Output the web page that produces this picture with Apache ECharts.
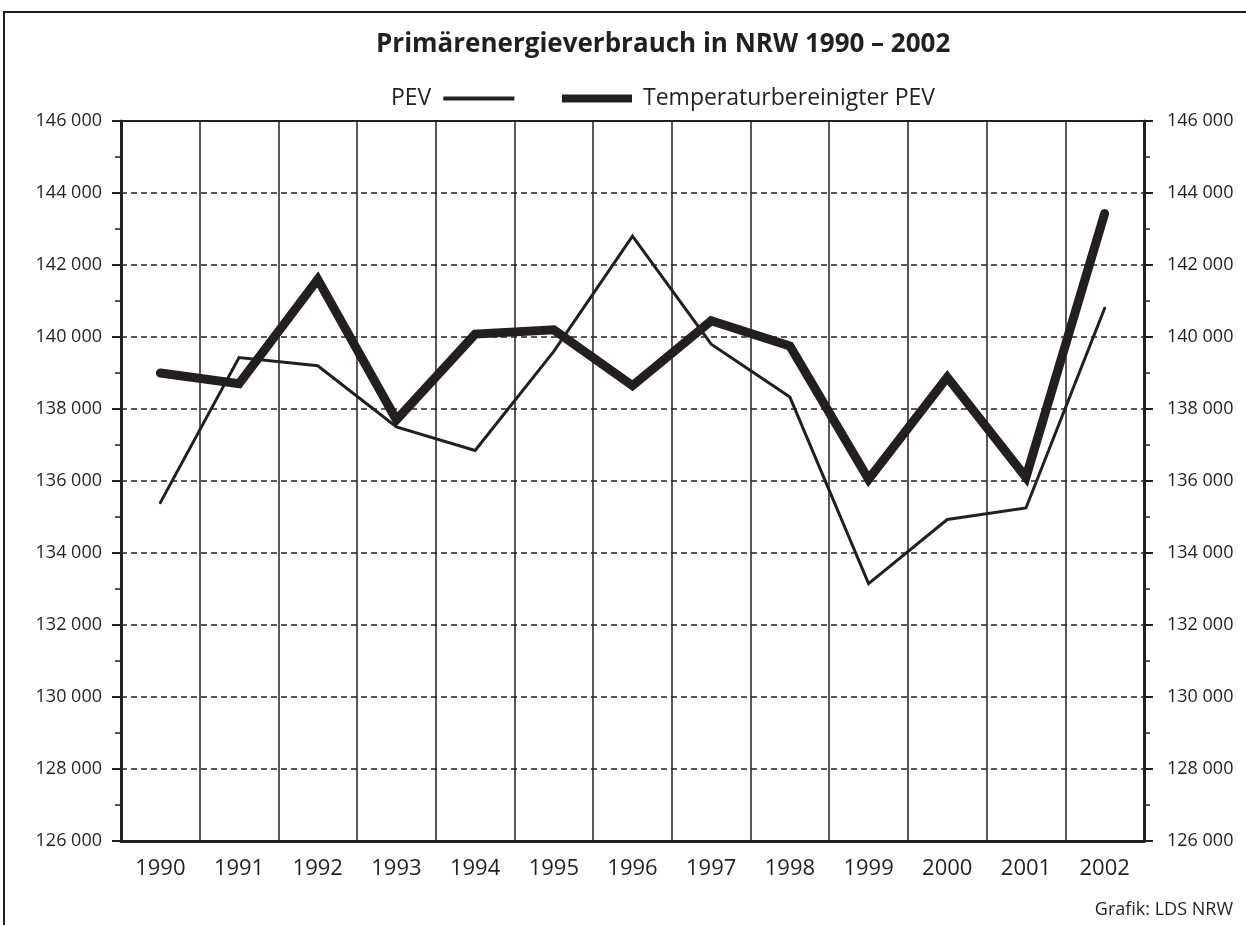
<!DOCTYPE html>
<html>
<head>
<meta charset="utf-8">
<script src="https://cdn.jsdelivr.net/npm/echarts@6/dist/echarts.min.js"></script>
<style>
  html, body { margin: 0; padding: 0; background: #fff; }
  #frame { position: absolute; left: 3px; top: 11px; width: 1243px; height: 914px;
           border-left: 2.5px solid #231f20; border-top: 2.5px solid #231f20; box-sizing: border-box; }
  #chart { position: absolute; left: 0; top: 0; width: 1246px; height: 925px; }
</style>
</head>
<body>
<div id="frame"></div>
<div id="chart"></div>
<script>
// Jahre und Werte (Primärenergieverbrauch)
var years = ['1990', '1991', '1992', '1993', '1994', '1995', '1996', '1997', '1998', '1999', '2000', '2001', '2002']
var pev = [135400, 139430, 139200, 137500, 136850, 139600, 142800, 139800, 138330, 133150, 134930, 135250, 140800]
var pevTemp = [139000, 138700, 141600, 137700, 140080, 140200, 138650, 140450, 139750, 136050, 138880, 136100, 143430]
var yMin = 126000
var yMax = 146000
var yStep = 2000

var ink = '#231f20'
var font = '"Open Sans", "DejaVu Sans", sans-serif'

function fmt (v) {
  return String(v).replace(/\B(?=(\d{3})+(?!\d))/g, ' ')
}

function valueAxis (pos, margin) {
  return {
    type: 'value',
    position: pos,
    min: yMin,
    max: yMax,
    interval: yStep,
    axisLine: { show: true, lineStyle: { color: ink, width: 3 } },
    axisTick: { show: true, inside: false, length: 9, lineStyle: { color: ink, width: 2 } },
    minorTick: { show: true, splitNumber: 2, length: 6, lineStyle: { color: ink, width: 1.5 } },
    axisLabel: { formatter: fmt, color: ink, fontFamily: font, fontSize: 18, margin: margin },
    splitLine: pos === 'left'
      ? { show: true, lineStyle: { color: ink, width: 1.5, type: [6, 4] } }
      : { show: false }
  }
}

var chart = echarts.init(document.getElementById('chart'), null, { renderer: 'canvas' })
chart.setOption({
  animation: false,
  backgroundColor: 'transparent',
  title: {
    text: 'Primärenergieverbrauch in NRW 1990 – 2002',
    left: 371,
    top: 27,
    textStyle: { color: ink, fontFamily: font, fontSize: 26, fontWeight: 'bold' }
  },
  legend: [{
    data: ['PEV'],
    left: 386,
    top: 82,
    align: 'right',
    icon: 'rect',
    itemWidth: 71,
    itemHeight: 4,
    itemStyle: { color: ink },
    textStyle: { color: ink, fontFamily: font, fontSize: 23, padding: [0, 7, 0, 0] }
  }, {
    data: ['Temperaturbereinigter PEV'],
    left: 557,
    top: 82,
    align: 'left',
    icon: 'rect',
    itemWidth: 70,
    itemHeight: 8,
    itemStyle: { color: ink },
    textStyle: { color: ink, fontFamily: font, fontSize: 23, padding: [0, 0, 0, 6] }
  }],
  grid: { left: 121, right: 102, top: 121, bottom: 84 },
  xAxis: [{
    type: 'category',
    data: years,
    boundaryGap: true,
    axisLine: { show: true, lineStyle: { color: ink, width: 3 } },
    axisTick: { show: false },
    axisLabel: { color: ink, fontFamily: font, fontSize: 22, margin: 17, interval: 0 },
    splitLine: { show: true, interval: 0, lineStyle: { color: ink, width: 1.5 } }
  }, {
    type: 'category',
    data: years,
    position: 'top',
    axisLine: { show: true, lineStyle: { color: ink, width: 2 } },
    axisTick: { show: false },
    axisLabel: { show: false },
    splitLine: { show: false }
  }],
  yAxis: [valueAxis('left', 19), valueAxis('right', 23)],
  series: [{
    name: 'PEV',
    type: 'line',
    data: pev,
    symbol: 'none',
    color: ink,
    lineStyle: { color: ink, width: 3, join: 'miter', cap: 'round' },
    z: 3
  }, {
    name: 'Temperaturbereinigter PEV',
    type: 'line',
    data: pevTemp,
    symbol: 'none',
    color: ink,
    lineStyle: { color: ink, width: 9, join: 'miter', cap: 'round' },
    z: 4
  }],
  graphic: [{
    type: 'text',
    right: 13,
    top: 901,
    style: { text: 'Grafik: LDS NRW', fill: ink, font: '18px ' + font }
  }]
})
</script>
</body>
</html>
